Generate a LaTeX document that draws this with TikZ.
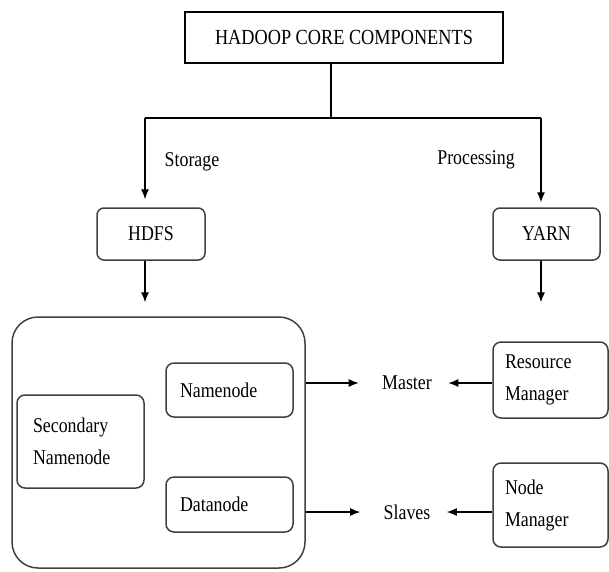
\documentclass[tikz,border=0pt]{standalone}
\usepackage{fontspec}
\setmainfont{Liberation Serif}[FakeStretch=0.85]
\usetikzlibrary{positioning,arrows.meta,calc}
\tikzset{
hadoop/.style={>={Latex[length=10pt,width=8pt]},line width=1.1pt,x=1pt,y=-1pt,
font=\fontsize{21}{32}\selectfont},
titlebox/.style={rectangle,draw,line width=1.6pt,minimum width=318pt,minimum height=51pt,
font=\fontsize{21.5}{24}\selectfont},
layer/.style={rectangle,draw=black!75,line width=1.5pt,rounded corners=7pt,minimum height=52pt},
daemon/.style={rectangle,draw=black!75,line width=1.5pt,rounded corners=8pt,align=left},
cluster/.style={rectangle,draw=black!75,line width=1.5pt,rounded corners=26pt,
minimum width=293pt,minimum height=251pt},
role/.style={inner sep=0pt}
}

\begin{document}
\begin{tikzpicture}[hadoop]
\useasboundingbox (0,0) rectangle (609,571);

\node[titlebox] (core) at (344,37.5) {HADOOP CORE COMPONENTS};
\coordinate (split) at (331,118);
\coordinate (store) at (145,118);
\coordinate (proc) at (541,118);

\node[layer,minimum width=108pt] (hdfs) at (151,234) {HDFS};
\node[layer,minimum width=107pt] (yarn) at (546.5,234) {YARN};

\node[role] (storage) at (192,162) {Storage};
\node[role] (processing) at (476,160) {Processing};

% HDFS side
\node[cluster] (hdfsbox) at (158.5,442.5) {};
\node[daemon,inner xsep=14pt,text width=99pt,minimum height=54pt] (nn) at (229.5,390) {Namenode};
\node[daemon,inner xsep=16pt,text width=95pt,minimum height=93pt] (snn) at (80.5,441.5) {Secondary\\Namenode};
\node[daemon,inner xsep=14pt,text width=99pt,minimum height=55pt] (dn) at (229.5,504.5) {Datanode};

% YARN side
\node[daemon,inner xsep=12pt,text width=91pt,minimum height=76pt] (rm) at (550.5,380) {Resource\\Manager};
\node[daemon,inner xsep=12pt,text width=91pt,minimum height=84pt] (nm) at (550.5,505) {Node\\Manager};

\node[role] (master) at (407,383) {Master};
\node[role] (slaves) at (407,512) {Slaves};

\draw (split |- core.south) -- (split);
\draw (store) -- (proc);
\draw[->,shorten >=8pt] (store) -- (store |- hdfs.north);
\draw[->,shorten >=5pt] (proc) -- (proc |- yarn.north);
\draw[->,shorten >=14pt] (store |- hdfs.south) -- (store |- hdfsbox.north);
\draw[->,shorten >=14pt] (proc |- yarn.south) -- (proc |- hdfsbox.north);

\draw[->,shorten >=23pt] (hdfsbox.east |- master) -- (master.west);
\draw[->,shorten >=16pt] (rm.west |- master) -- (master.east);
\draw[->,shorten >=23pt] (hdfsbox.east |- slaves) -- (slaves.west);
\draw[->,shorten >=16pt] (nm.west |- slaves) -- (slaves.east);

\end{tikzpicture}
\end{document}
